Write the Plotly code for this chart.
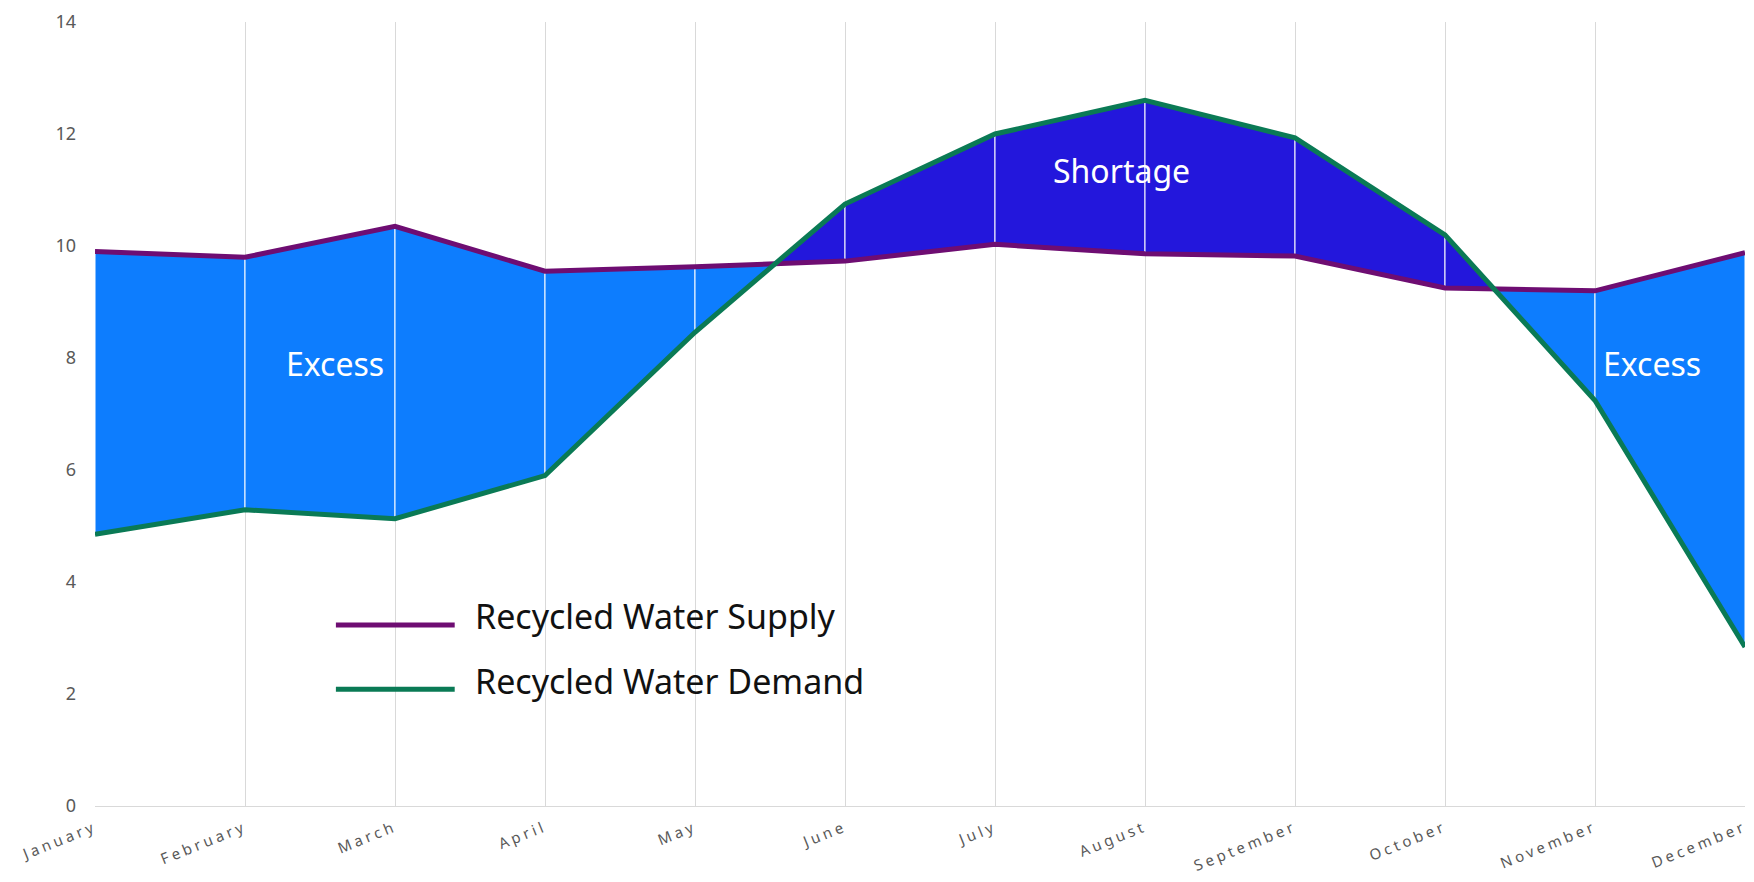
import plotly.graph_objects as go

# Data
months = ['January', 'February', 'March', 'April', 'May', 'June',
          'July', 'August', 'September', 'October', 'November', 'December']
supply = [9.9, 9.8, 10.35, 9.55, 9.63, 9.73, 10.03, 9.86, 9.82, 9.25, 9.2, 9.88]
demand = [4.85, 5.29, 5.13, 5.9, 8.46, 10.75, 12.0, 12.6, 11.93, 10.2, 7.24, 2.84]

# Colors
supply_css = '#6E0D72'
demand_css = '#0A7A55'
excess_css = '#0D7DFE'
shortage_css = '#2317DC'
grid_css = '#D9D9D9'
font_family = 'Noto Sans'

x = list(range(len(months)))

fig = go.Figure()

# Fill between the two curves, one piece per month, split where they cross
for i in range(len(x) - 1):
    x0, x1 = x[i], x[i + 1]
    s0, s1 = supply[i], supply[i + 1]
    d0, d1 = demand[i], demand[i + 1]
    diff0, diff1 = d0 - s0, d1 - s1
    pieces = []
    if diff0 * diff1 < 0:
        t = diff0 / (diff0 - diff1)
        xc = x0 + t * (x1 - x0)
        yc = s0 + t * (s1 - s0)
        pieces.append(([x0, xc, x0], [s0, yc, d0], diff0))
        pieces.append(([xc, x1, x1], [yc, s1, d1], diff1))
    else:
        pieces.append(([x0, x1, x1, x0], [s0, s1, d1, d0], diff0 + diff1))
    for px, py, sign in pieces:
        fig.add_trace(go.Scatter(
            x=px + [px[0]], y=py + [py[0]],
            mode='lines', fill='toself',
            fillcolor=shortage_css if sign > 0 else excess_css,
            line=dict(color='white', width=1),
            hoverinfo='skip', showlegend=False
        ))

fig.add_trace(go.Scatter(x=x, y=supply, mode='lines', name='Recycled Water Supply',
                         line=dict(color=supply_css, width=5), cliponaxis=False,
                         showlegend=False))
fig.add_trace(go.Scatter(x=x, y=demand, mode='lines', name='Recycled Water Demand',
                         line=dict(color=demand_css, width=5), cliponaxis=False,
                         showlegend=False))

# Region labels
labels = [('Excess', 1.6, 7.9), ('Shortage', 6.84, 11.35), ('Excess', 10.38, 7.9)]
for txt, lx, ly in labels:
    fig.add_annotation(x=lx, y=ly, text=txt, showarrow=False,
                       font=dict(family=font_family, size=32, color='white'))

# Legend drawn by hand (long line samples on a white box)
fig.add_shape(type='rect', xref='paper', yref='paper', x0=0.2, x1=0.58, y0=0.096, y1=0.283,
              fillcolor='white', line=dict(width=0), layer='between')
legend_rows = [('Recycled Water Supply', supply_css, 0.231), ('Recycled Water Demand', demand_css, 0.149)]
for name, color, ly in legend_rows:
    fig.add_shape(type='line', xref='paper', yref='paper', x0=0.146, x1=0.218, y0=ly, y1=ly,
                  line=dict(color=color, width=5))
    fig.add_annotation(xref='paper', yref='paper', x=0.229, y=ly + 0.011, text=name,
                       showarrow=False, xanchor='left', yanchor='middle',
                       font=dict(family=font_family, size=34, color='#111111'))

# page body adds 8px, so the figure is 8px smaller to fit the window
fig.update_layout(
    width=1746, height=874,
    margin=dict(l=87, r=9, t=14, b=76),
    plot_bgcolor='white', paper_bgcolor='white',
    font=dict(family=font_family),
    showlegend=False
)
fig.update_xaxes(
    range=[0, 11],
    tickvals=x,
    ticktext=['<span style="letter-spacing:3.5px">%s</span>' % m for m in months],
    tickangle=-22,
    tickfont=dict(size=15, color='#595959'),
    showgrid=True, gridcolor=grid_css, gridwidth=1,
    showline=True, linecolor=grid_css, linewidth=1,
    zeroline=False, ticks='', ticklabelstandoff=6,
    automargin=False
)
fig.update_yaxes(
    range=[0, 14],
    tickvals=[0, 2, 4, 6, 8, 10, 12, 14],
    tickfont=dict(size=18, color='#595959'),
    showgrid=False, zeroline=False, showline=False,
    ticks='', ticklabelstandoff=18,
    automargin=False
)

fig.write_html("out.html")
